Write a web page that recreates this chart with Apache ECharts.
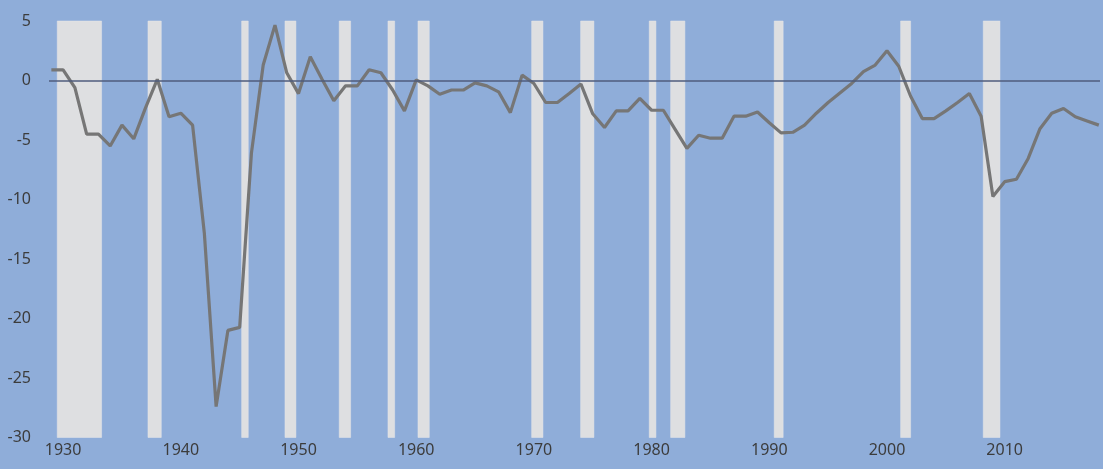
<!DOCTYPE html>
<html>
<head>
<meta charset="utf-8">
<script src="https://cdn.jsdelivr.net/npm/echarts@6/dist/echarts.min.js"></script>
<style>
  html, body { margin: 0; padding: 0; background: #8FADD9; }
  #chart { width: 1103px; height: 469px; }
</style>
</head>
<body>
<div id="chart"></div>
<script>
  // budget balance, % of GDP
  const years = [
    1929, 1930, 1931, 1932, 1933, 1934, 1935, 1936, 1937, 1938, 1939,
    1940, 1941, 1942, 1943, 1944, 1945, 1946, 1947, 1948, 1949,
    1950, 1951, 1952, 1953, 1954, 1955, 1956, 1957, 1958, 1959,
    1960, 1961, 1962, 1963, 1964, 1965, 1966, 1967, 1968, 1969,
    1970, 1971, 1972, 1973, 1974, 1975, 1976, 1977, 1978, 1979,
    1980, 1981, 1982, 1983, 1984, 1985, 1986, 1987, 1988, 1989,
    1990, 1991, 1992, 1993, 1994, 1995, 1996, 1997, 1998, 1999,
    2000, 2001, 2002, 2003, 2004, 2005, 2006, 2007, 2008, 2009,
    2010, 2011, 2012, 2013, 2014, 2015, 2016, 2017, 2018
  ]
  const balance = [
    0.9, 0.9, -0.6, -4.5, -4.5, -5.5, -3.75, -4.9, -2.3, 0.1, -3.05,
    -2.75, -3.75, -12.85, -27.4, -21.0, -20.75, -6.1, 1.3, 4.65, 0.65,
    -1.1, 2.0, 0.1, -1.7, -0.45, -0.45, 0.9, 0.65, -0.8, -2.55,
    0.05, -0.45, -1.15, -0.8, -0.8, -0.2, -0.45, -0.95, -2.7, 0.45,
    -0.25, -1.85, -1.85, -1.1, -0.3, -2.8, -3.95, -2.55, -2.55, -1.5,
    -2.5, -2.5, -4.1, -5.7, -4.6, -4.85, -4.85, -3.0, -3.0, -2.65,
    -3.55, -4.4, -4.35, -3.75, -2.75, -1.85, -1.05, -0.25, 0.75, 1.3,
    2.5, 1.2, -1.3, -3.2, -3.2, -2.55, -1.85, -1.1, -3.0, -9.75,
    -8.5, -8.3, -6.55, -4.05, -2.75, -2.35, -3.05, -3.4, -3.75
  ]
  // recession periods (fractional years)
  const recessionStart = [1929.5, 1937.21, 1945.17, 1948.85, 1953.46, 1957.6, 1960.15,
    1969.81, 1973.97, 1979.8, 1981.62, 1990.42, 2001.16, 2008.18]
  const recessionEnd = [1933.27, 1938.34, 1945.73, 1949.78, 1954.43, 1958.17, 1961.11,
    1970.77, 1975.1, 1980.37, 1982.83, 1991.18, 2002.01, 2009.6]
  const xTickLabels = [1930, 1940, 1950, 1960, 1970, 1980, 1990, 2000, 2010]

  let myChart = echarts.init(document.getElementById('chart'))

  let areas = recessionStart.map(function (s, i) {
    return [{ xAxis: s }, { xAxis: recessionEnd[i] }]
  })

  let option = {
    backgroundColor: '#8FADD9',
    animation: false,
    grid: {
      left: 49,
      right: 3,
      top: 21,
      bottom: 31.5
    },
    xAxis: {
      type: 'value',
      min: 1928.8,
      max: 2018.1,
      axisLine: { show: false },
      axisTick: { show: false },
      splitLine: { show: false },
      axisLabel: {
        customValues: xTickLabels,
        margin: 5,
        color: '#3c3c3c',
        fontSize: 16,
        fontFamily: 'Noto Sans',
        formatter: function (v) { return String(Math.round(v)) }
      }
    },
    yAxis: {
      type: 'value',
      min: -30,
      max: 5,
      interval: 5,
      axisLine: { show: false },
      axisTick: { show: false },
      splitLine: { show: false },
      axisLabel: {
        margin: 18,
        color: '#3c3c3c',
        fontSize: 16,
        fontFamily: 'Noto Sans'
      }
    },
    series: [
      {
        name: 'zero',
        type: 'line',
        data: [],
        z: 1,
        silent: true,
        markLine: {
          silent: true,
          symbol: 'none',
          label: { show: false },
          lineStyle: { color: '#4f5d7c', width: 1.5, type: 'solid' },
          data: [{ yAxis: 0 }]
        }
      },
      {
        name: 'recessions',
        type: 'line',
        data: [],
        z: 2,
        silent: true,
        markArea: {
          silent: true,
          itemStyle: { color: '#DEDFE1', borderColor: '#e6e7e9', borderWidth: 0.5 },
          data: areas
        }
      },
      {
        name: 'balance',
        type: 'line',
        z: 3,
        symbol: 'none',
        lineStyle: { color: '#767676', width: 3.2 },
        data: years.map(function (y, i) { return [y, balance[i]] })
      }
    ]
  }
  myChart.setOption(option)
</script>
</body>
</html>
